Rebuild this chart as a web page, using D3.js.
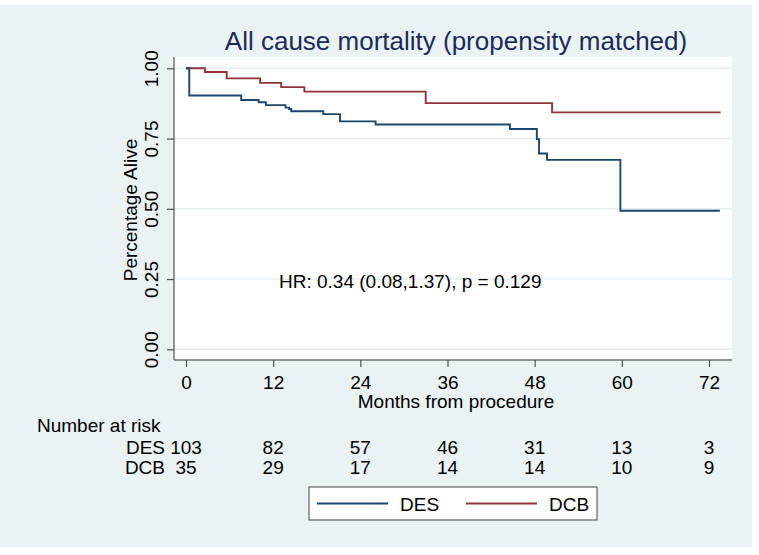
<!DOCTYPE html>
<html>
<head>
<meta charset="utf-8">
<script src="https://cdn.jsdelivr.net/npm/d3@7"></script>
<style>
  body { margin: 0; background: #fff; }
  text { font-family: "Liberation Sans", Arial, sans-serif; fill: #000; }
</style>
</head>
<body>
<div id="chart"></div>
<script>
// Kaplan-Meier steps
const desMonths = [0, 0.45, 7.6, 10.0, 11.0, 13.7, 14.2, 14.5, 18.9, 21.2, 26.1, 44.6, 48.3, 48.6, 49.7, 59.8, 73.5];
const desSurv   = [1, 0.903, 0.887, 0.879, 0.869, 0.860, 0.855, 0.847, 0.837, 0.811, 0.800, 0.784, 0.748, 0.697, 0.674, 0.493, 0.493];
const dcbMonths = [0, 2.6, 5.6, 10.2, 13.1, 16.3, 33.0, 50.4, 73.6];
const dcbSurv   = [1, 0.987, 0.964, 0.948, 0.933, 0.917, 0.876, 0.843, 0.843];

const riskMonths = [0, 12, 24, 36, 48, 60, 72];
const desRisk = [103, 82, 57, 46, 31, 13, 3];
const dcbRisk = [35, 29, 17, 14, 14, 10, 9];
const yTicks = [0, 0.25, 0.5, 0.75, 1];

const width = 759, height = 555;
const fs = 19;
const svg = d3.select("#chart").append("svg")
  .attr("width", width)
  .attr("height", height);

// outer background
svg.append("rect")
  .attr("x", 0).attr("y", 5)
  .attr("width", 752).attr("height", 542)
  .attr("fill", "#eaf2f3");

let x = d3.scaleLinear().domain([0, 72]).range([186, 709]);
let y = d3.scaleLinear().domain([0, 1]).range([349.3, 68.3]);

let plotLeft = 174, plotRight = 732, plotTop = 57, plotBottom = 360;

svg.append("rect")
  .attr("x", plotLeft).attr("y", plotTop)
  .attr("width", plotRight - plotLeft).attr("height", plotBottom - plotTop)
  .attr("fill", "#fff");

// gridlines
svg.append("g")
  .selectAll("line")
  .data(yTicks)
  .enter()
  .append("line")
  .attr("x1", plotLeft).attr("x2", plotRight)
  .attr("y1", d => y(d)).attr("y2", d => y(d))
  .attr("stroke", "#e6eef2")
  .attr("stroke-width", 1.5);

// axes
let yAxis = d3.axisLeft(y).tickValues(yTicks).tickSize(7).tickFormat(d3.format(".2f"));
let yg = svg.append("g")
  .attr("transform", `translate(${plotLeft},0)`)
  .call(yAxis);
yg.select(".domain").attr("d", `M0,${plotTop}V${plotBottom}`);
yg.selectAll("text")
  .attr("font-size", fs)
  .attr("text-anchor", "middle")
  .attr("transform", "rotate(-90)")
  .attr("x", 0)
  .attr("y", -16)
  .attr("dy", 0);

let xAxis = d3.axisBottom(x).tickValues(riskMonths).tickSize(7);
let xg = svg.append("g")
  .attr("transform", `translate(0,${plotBottom})`)
  .call(xAxis);
xg.select(".domain").attr("d", `M${plotLeft},0H${plotRight}`);
xg.selectAll("text")
  .attr("font-size", fs)
  .attr("y", 29)
  .attr("dy", 0);

[yg, xg].forEach(g => {
  g.select(".domain").attr("stroke", "#707070").attr("stroke-width", 1.5);
  g.selectAll(".tick line").attr("stroke", "#505050").attr("stroke-width", 1.2);
  g.selectAll("text").attr("fill", "#000");
});

// survival curves
let line = d3.line()
  .x(d => x(d[0]))
  .y(d => y(d[1]))
  .curve(d3.curveStepAfter);

svg.append("path")
  .datum(dcbMonths.map((m, i) => [m, dcbSurv[i]]))
  .attr("d", line)
  .attr("fill", "none")
  .attr("stroke", "#90353b")
  .attr("stroke-width", 1.9);

svg.append("path")
  .datum(desMonths.map((m, i) => [m, desSurv[i]]))
  .attr("d", line)
  .attr("fill", "none")
  .attr("stroke", "#1a476f")
  .attr("stroke-width", 1.9);

// titles
svg.append("text")
  .attr("x", 456).attr("y", 50)
  .attr("text-anchor", "middle")
  .attr("font-size", 26)
  .style("fill", "#1c2b5a")
  .text("All cause mortality (propensity matched)");

svg.append("text")
  .attr("x", 456).attr("y", 408)
  .attr("text-anchor", "middle")
  .attr("font-size", fs)
  .text("Months from procedure");

svg.append("text")
  .attr("transform", "translate(137,210) rotate(-90)")
  .attr("text-anchor", "middle")
  .attr("font-size", fs)
  .text("Percentage Alive");

svg.append("text")
  .attr("x", 279).attr("y", 288)
  .attr("font-size", fs)
  .text("HR: 0.34 (0.08,1.37), p = 0.129");

// number at risk table
svg.append("text")
  .attr("x", 37).attr("y", 432)
  .attr("font-size", fs)
  .text("Number at risk");

let rows = [["DES", desRisk, 454], ["DCB", dcbRisk, 474]];
rows.forEach(r => {
  svg.append("text")
    .attr("x", 165).attr("y", r[2])
    .attr("text-anchor", "end")
    .attr("font-size", fs)
    .text(r[0]);
  svg.append("g")
    .selectAll("text")
    .data(r[1])
    .enter()
    .append("text")
    .attr("x", (d, i) => x(riskMonths[i]))
    .attr("y", r[2])
    .attr("text-anchor", "middle")
    .attr("font-size", fs)
    .text(d => d);
});

// legend
let legend = svg.append("g");
legend.append("rect")
  .attr("x", 309).attr("y", 487)
  .attr("width", 288).attr("height", 33)
  .attr("fill", "#fff")
  .attr("stroke", "#404040")
  .attr("stroke-width", 1);

let legendItems = [["DES", "#1a476f", 317], ["DCB", "#90353b", 466]];
legendItems.forEach(d => {
  legend.append("line")
    .attr("x1", d[2]).attr("x2", d[2] + 71)
    .attr("y1", 503.5).attr("y2", 503.5)
    .attr("stroke", d[1])
    .attr("stroke-width", 1.8);
  legend.append("text")
    .attr("x", d[2] + 83).attr("y", 510.5)
    .attr("font-size", fs)
    .text(d[0]);
});
</script>
</body>
</html>
